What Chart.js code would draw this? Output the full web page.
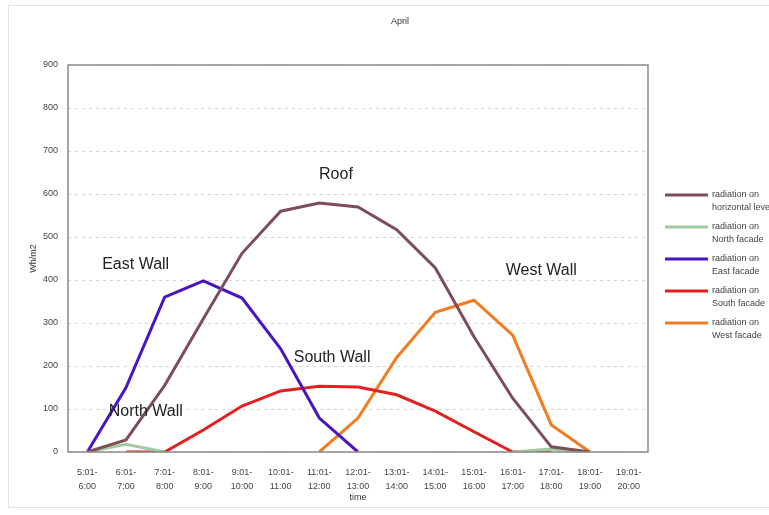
<!DOCTYPE html>
<html lang="en">
<head>
    <meta charset="UTF-8">
    <title>April</title>
    <script src="https://cdn.jsdelivr.net/npm/chart.js"></script>
    <style>
        body { margin: 0; background: #fff; }
        .wrap { position: relative; width: 769px; height: 515px; }
        .frame {
            position: absolute; left: 8px; top: 5px; width: 770px; height: 503px;
            border: 1px solid #e2e2e2; box-sizing: border-box;
        }
    </style>
</head>
<body>
<div class="wrap">
    <div class="frame"></div>
    <canvas id="myChart" width="769" height="515"></canvas>
</div>

<script>
// hour slots on the x axis
const hours = [
    ['5:01-', '6:00'], ['6:01-', '7:00'], ['7:01-', '8:00'], ['8:01-', '9:00'],
    ['9:01-', '10:00'], ['10:01-', '11:00'], ['11:01-', '12:00'], ['12:01-', '13:00'],
    ['13:01-', '14:00'], ['14:01-', '15:00'], ['15:01-', '16:00'], ['16:01-', '17:00'],
    ['17:01-', '18:00'], ['18:01-', '19:00'], ['19:01-', '20:00']
];

// radiation values, Wh/m2
const horizontal = [0, 28, 155, 310, 462, 560, 579, 570, 517, 428, 268, 125, 12, 0, null];
const north = [0, 18, 0, null, null, null, null, null, null, null, null, 0, 7, 0, null];
const east = [0, 150, 360, 398, 358, 240, 79, 0, null, null, null, null, null, null, null];
const south = [null, 0, 0, 51, 107, 142, 153, 151, 133, 95, 47, 0, 0, null, null];
const west = [null, null, null, null, null, null, 0, 79, 220, 325, 353, 272, 63, 0, null];

const seriesNames = [
    ['radiation on', 'horizontal level'],
    ['radiation on', 'North facade'],
    ['radiation on', 'East facade'],
    ['radiation on', 'South facade'],
    ['radiation on', 'West facade']
];

const yTicks = [0, 100, 200, 300, 400, 500, 600, 700, 800, 900];

// wall labels written inside the plot: text, category position, value position
const wallText = ['Roof', 'East Wall', 'North Wall', 'South Wall', 'West Wall'];
const wallX = [6.43, 1.25, 1.51, 6.33, 11.74];
const wallY = [646, 435, 93, 219, 423];

const colors = ['#7d4e58', '#a3c9a0', '#4a14c2', '#e3201f', '#f27c22'];

const font = "'Liberation Sans', Arial, sans-serif";

const extras = {
    id: 'extras',
    beforeDatasetsDraw(chart) {
        // dashed horizontal grid
        const c = chart.ctx;
        const a = chart.chartArea;
        const ys = chart.scales.y;
        c.save();
        c.strokeStyle = '#d2d2d2';
        c.lineWidth = 1;
        c.setLineDash([3, 4]);
        yTicks.forEach(v => {
            const y = Math.round(ys.getPixelForValue(v)) + 0.5;
            c.beginPath();
            c.moveTo(a.left, y);
            c.lineTo(a.right, y);
            c.stroke();
        });
        c.restore();
    },
    afterDraw(chart) {
        const c = chart.ctx;
        const a = chart.chartArea;
        const xs = chart.scales.x, ys = chart.scales.y;
        c.save();
        // plot frame
        c.strokeStyle = '#8a8a8a';
        c.lineWidth = 1.5;
        c.strokeRect(a.left, a.top, a.right - a.left, a.bottom - a.top);

        // title
        c.fillStyle = '#333';
        c.font = '9px ' + font;
        c.textAlign = 'center';
        c.textBaseline = 'middle';
        c.fillText('April', 400, 22);

        // wall labels
        c.font = '16px ' + font;
        c.fillStyle = '#222';
        const step = xs.getPixelForValue(1) - xs.getPixelForValue(0);
        wallText.forEach((t, i) => {
            const px = xs.getPixelForValue(0) + step * wallX[i];
            c.fillText(t, px, ys.getPixelForValue(wallY[i]));
        });

        // legend
        c.font = '9px ' + font;
        c.textAlign = 'left';
        c.fillStyle = '#444';
        chart.data.datasets.forEach((ds, i) => {
            const y = 195 + i * 32;
            c.strokeStyle = ds.borderColor;
            c.lineWidth = 3;
            c.beginPath();
            c.moveTo(665, y);
            c.lineTo(708, y);
            c.stroke();
            seriesNames[i].forEach((line, j) => {
                c.fillText(line, 712, y + j * 13);
            });
        });
        c.restore();
    }
};

const ctx = document.getElementById('myChart').getContext('2d');
const datasets = [horizontal, north, east, south, west].map((d, i) => ({
    label: seriesNames[i].join(' '),
    data: d,
    borderColor: colors[i],
    backgroundColor: colors[i],
    borderWidth: 3,
    pointRadius: 0,
    tension: 0,
    spanGaps: false
}));

const myChart = new Chart(ctx, {
    type: 'line',
    data: { labels: hours, datasets: datasets },
    options: {
        responsive: false,
        animation: false,
        layout: { padding: { left: 0, right: 121, top: 65, bottom: 0 } },
        plugins: {
            legend: { display: false },
            title: { display: false },
            tooltip: { enabled: false }
        },
        scales: {
            x: {
                offset: true,
                grid: { display: false },
                border: { display: false },
                ticks: {
                    autoSkip: false,
                    maxRotation: 0,
                    padding: 6,
                    color: '#444',
                    font: { family: font, size: 9, lineHeight: 1.55 }
                },
                title: {
                    display: true,
                    text: 'time',
                    color: '#333',
                    font: { family: font, size: 9 },
                    padding: { top: 0, bottom: 12 }
                },
                afterFit(scale) { scale.height = 63; }
            },
            y: {
                min: 0,
                max: 900,
                afterBuildTicks(scale) { scale.ticks = yTicks.map(v => ({ value: v })); },
                grid: { color: 'rgba(0,0,0,0)', drawTicks: false },
                border: { display: false },
                ticks: {
                    padding: 10,
                    color: '#444',
                    font: { family: font, size: 9 }
                },
                title: {
                    display: true,
                    text: 'Wh/m2',
                    color: '#333',
                    font: { family: font, size: 9 },
                    padding: { top: 28, bottom: 0 }
                },
                afterFit(scale) { scale.width = 68; }
            }
        }
    },
    plugins: [extras]
});
</script>
</body>
</html>
